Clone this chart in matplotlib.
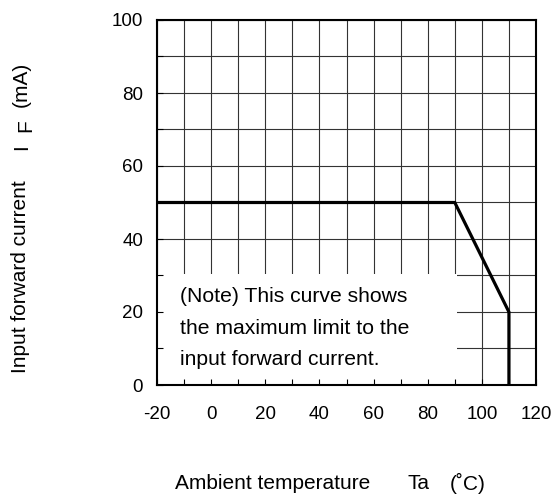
import numpy as np
import matplotlib.pyplot as plt
from matplotlib.patches import Rectangle

plt.rcParams['font.family'] = ['Liberation Sans', 'DejaVu Sans']

# derating curve: Ta (C) vs max IF (mA)
ta = [-20, 90, 110, 110]
i_f = [50, 50, 20, 0]

x_ticks = np.arange(-20, 121, 10)
y_ticks = np.arange(0, 101, 10)
x_labels = [str(v) if v % 20 == 0 else '' for v in x_ticks]
y_labels = [str(v) if v % 20 == 0 else '' for v in y_ticks]

note_lines = ["(Note) This curve shows",
              "the maximum limit to the",
              "input forward current."]

fig = plt.figure(figsize=(5.52, 4.98), dpi=100)
ax = fig.add_axes([157/552, 1-385/498, (536-157)/552, (385-20)/498])

# grid drawn by hand so the note box can sit on top of it
ax.vlines(x_ticks, 0, 100, color='#333333', lw=0.8, zorder=1)
ax.hlines(y_ticks, -20, 120, color='#333333', lw=0.8, zorder=1)

# white box behind the note
ax.add_patch(Rectangle((-20, 0), 111, 30.4, facecolor='white',
                       edgecolor='none', zorder=1.5))

ax.plot(ta, i_f, color='black', lw=2.3, zorder=4, solid_joinstyle='miter')

for k, line in enumerate(note_lines):
    ax.text(-11.5, 24.2 - 8.6*k, line, fontsize=15.2, va='center', ha='left', zorder=5)

ax.set_xlim(-20, 120)
ax.set_ylim(0, 100)
ax.set_xticks(x_ticks)
ax.set_xticklabels(x_labels)
ax.set_yticks(y_ticks)
ax.set_yticklabels(y_labels)
ax.tick_params(direction='in', length=4.5, width=0.8, labelsize=13.5)
ax.tick_params(axis='x', pad=15)
ax.tick_params(axis='y', pad=10)
for s in ax.spines.values():
    s.set_linewidth(1.5)
    s.set_zorder(6)

# axis titles
fig.text(175/552, 1-483/498, "Ambient temperature", fontsize=15, ha='left', va='center')
fig.text(407/552, 1-483/498, "Ta", fontsize=15, ha='left', va='center')
fig.text(450/552, 1-483/498, "(˚C)", fontsize=15, ha='left', va='center')

fig.text(21/552, 1-373/498, "Input forward current", fontsize=15, rotation=90,
         ha='center', va='bottom')
fig.text(22/552, 1-150/498, "I", fontsize=15, rotation=90, ha='center', va='bottom')
fig.text(26/552, 1-132/498, "F", fontsize=15, rotation=90, ha='center', va='bottom')
fig.text(21/552, 1-107/498, "(mA)", fontsize=15, rotation=90, ha='center', va='bottom')

fig.savefig('out.png', dpi=100)
